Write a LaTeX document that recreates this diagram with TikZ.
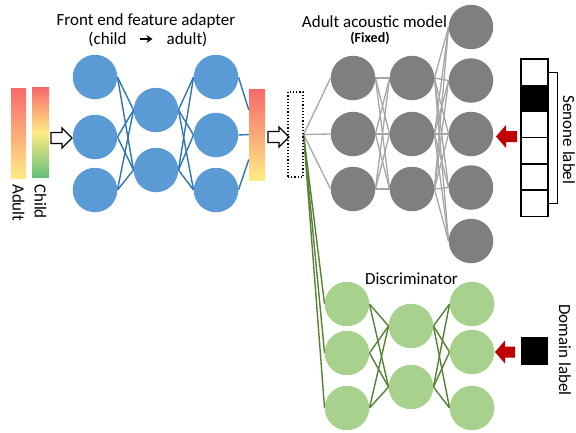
\documentclass[tikz,border=0pt]{standalone}
\usepackage{fontspec}
\setmainfont{Carlito}
\usetikzlibrary{arrows.meta}
\pgfdeclarelayer{bg}
\pgfsetlayers{bg,main}
\definecolor{nblue}{HTML}{5B9BD5}
\definecolor{lblue}{HTML}{2E75B6}
\definecolor{ngray}{HTML}{7F7F7F}
\definecolor{lgray}{HTML}{A6A6A6}
\definecolor{ngreen}{HTML}{A9D18E}
\definecolor{lgreen}{HTML}{548235}
\definecolor{xred}{HTML}{F8696B}
\definecolor{xyel}{HTML}{FFEB84}
\definecolor{xgrn}{HTML}{63BE7B}
\definecolor{dred}{HTML}{C00000}
\begin{document}
\begin{tikzpicture}[x=1pt,y=-1pt,
  neuron/.style={circle, minimum size=44.5pt, inner sep=0pt},
  bn/.style={neuron, fill=nblue},
  gn/.style={neuron, fill=ngray},
  nn/.style={neuron, fill=ngreen},
  bl/.style={draw=lblue, line width=1.4pt},
  gl/.style={draw=lgray, line width=1.3pt},
  nl/.style={draw=lgreen, line width=1.4pt},
  lab/.style={font=\fontsize{17}{20}\selectfont, inner sep=0pt},
  bar/.style={inner sep=0pt, minimum width=16pt, minimum height=90pt},
  hollow/.style={draw=black, fill=white, line width=1.3pt, line join=miter},
  redarr/.style={fill=dred},
  sbox/.style={draw=black, line width=1.4pt, minimum width=27pt, minimum height=26.2pt, inner sep=0pt},
]
\useasboundingbox (0,0) rectangle (576,432);

% labels
\node[lab] (t1) at (146,21) {Front end feature adapter};
\node[lab] (ch) at (107.5,39) {(child};
\node[lab] (ad) at (187,39) {adult)};
\draw[-{Stealth[length=6pt,width=8pt]}, line width=1.5pt, shorten <=13pt, shorten >=14pt] (ch.east) -- (ad.west);
\node[lab] (t2) at (374.5,22) {Adult acoustic model};
\node[lab, font=\fontsize{14}{16}\selectfont\bfseries] (fx) at (370,38) {(Fixed)};
\node[lab] (t3) at (411.5,279) {Discriminator};
\node[lab, rotate=-90] (sl) at (569,140) {Senone label};
\node[lab, rotate=-90] (dl) at (565,350) {Domain label};
\node[lab, rotate=-90, anchor=west] (la) at (18.5,184) {Adult};
\node[lab, rotate=-90, anchor=west] (lc) at (40.5,184) {Child};

% bars
\node[bar, minimum width=15pt, top color=xred, bottom color=xyel] (adult) at (18.5,133) {};
\node[bar, minimum width=17pt, top color=xred, bottom color=xgrn, middle color=xyel] (child) at (40.5,132.5) {};
\node[bar, minimum height=91pt, top color=xred, bottom color=xyel] (out) at (257,134.5) {};

% hollow arrows
\draw[hollow] (51,132.5) -- (62,132.5) -- (62,128) -- (72,138) -- (62,148) -- (62,143.5) -- (51,143.5) -- cycle;
\draw[hollow] (268,131.5) -- (279,131.5) -- (279,127) -- (289,137) -- (279,147) -- (279,142.5) -- (268,142.5) -- cycle;

% dotted rect
\node[draw=black, dotted, line width=1.2pt, minimum width=15pt, minimum height=85pt, inner sep=0pt] (dr) at (295.5,134.5) {};

% blue net
\foreach \y [count=\i] in {77,137,190} \node[bn] (b1\i) at (95,\y) {};
\foreach \y [count=\i] in {110,170} \node[bn] (b2\i) at (156,\y) {};
\foreach \y [count=\i] in {77,135,190} \node[bn] (b3\i) at (216,\y) {};

% gray net
\foreach \y [count=\i] in {78,134,189} \node[gn] (g1\i) at (353,\y) {};
\foreach \y [count=\i] in {78,134,189} \node[gn] (g2\i) at (412,\y) {};
\foreach \y [count=\i] in {27,80.5,134,187.5,241} \node[gn] (g3\i) at (471,\y) {};

% green net
\foreach \y [count=\i] in {304,353,408} \node[nn] (n1\i) at (347,\y) {};
\foreach \y [count=\i] in {326,387} \node[nn] (n2\i) at (411,\y) {};
\foreach \y [count=\i] in {304,352,408} \node[nn] (n3\i) at (472,\y) {};

\begin{pgfonlayer}{bg}
\foreach \i in {1,2,3} \foreach \j in {1,2} {
  \draw[bl] (b1\i.east) -- (b2\j.west);
  \draw[bl] (b2\j.east) -- (b3\i.west);
  \draw[nl] (n1\i.east) -- (n2\j.west);
  \draw[nl] (n2\j.east) -- (n3\i.west);
}
\draw[bl] (b31.east) -- ([yshift=24.5pt]out.west);
\draw[bl] (b32.east) -- (out.west);
\draw[bl] (b33.east) -- ([yshift=-25pt]out.west);
\foreach \i in {1,2,3} {
  \draw[gl] (dr.east) -- (g1\i.west);
  \draw[nl] (dr.east) -- (n1\i.west);
  \foreach \j in {1,2,3} \draw[gl] (g1\i.east) -- (g2\j.west);
  \foreach \k in {1,...,5} \draw[gl] (g2\i.east) -- (g3\k.west);
}
\end{pgfonlayer}

% senone label
\foreach \i in {1,...,6} \node[sbox] (s\i) at (534.5,{72.1+26.2*(\i-1)}) {};
\node[sbox, fill=black] at (s2) {};
\draw[line width=1pt] (s1.east) -- ++(9,0) |- (s6.east);
\fill[redarr] (496,136.5) -- (506,125) -- (506,131) -- (517,131) -- (517,142) -- (506,142) -- (506,148) -- cycle;

% domain label
\node[fill=black, minimum width=27pt, minimum height=28pt, inner sep=0pt] (dom) at (534,351) {};
\fill[redarr] (495,352) -- (505,340.5) -- (505,346.5) -- (515,346.5) -- (515,357.5) -- (505,357.5) -- (505,363.5) -- cycle;
\end{tikzpicture}
\end{document}
